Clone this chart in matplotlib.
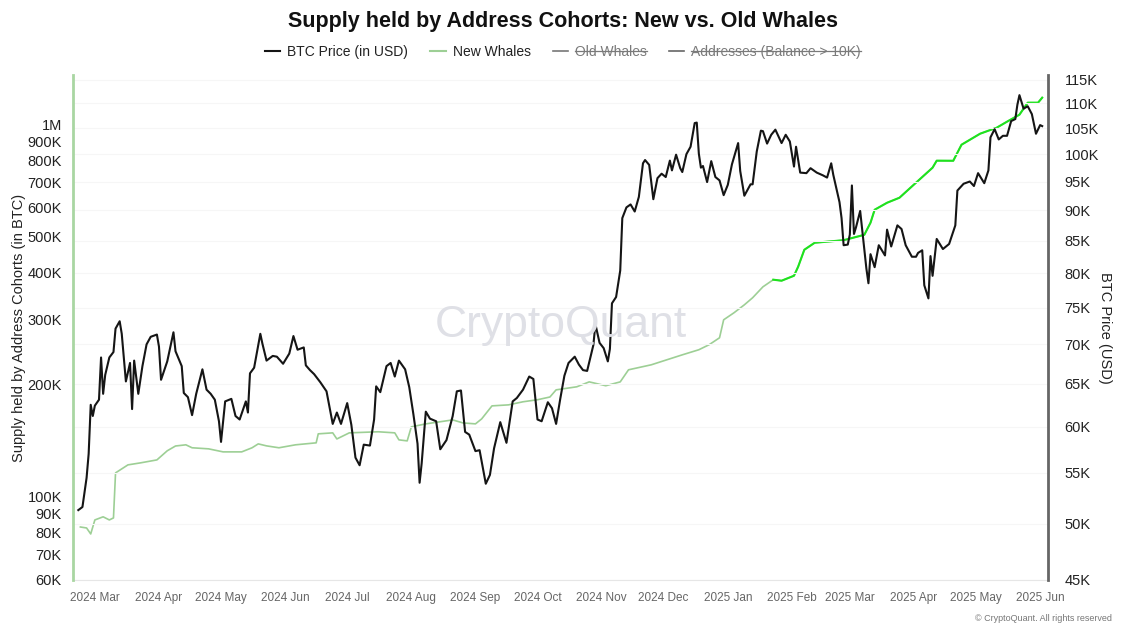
import numpy as np
import pandas as pd
import matplotlib
matplotlib.use("Agg")
import matplotlib.pyplot as plt
import matplotlib.dates as mdates
from matplotlib.lines import Line2D
from matplotlib.ticker import FixedLocator, NullLocator

plt.rcParams['font.family'] = ['Liberation Sans', 'DejaVu Sans']

# BTC price (USD)
price_dates = [
    "2024-02-22", "2024-02-24", "2024-02-26", "2024-02-27", "2024-02-28", "2024-02-29",
    "2024-03-01", "2024-03-03", "2024-03-04", "2024-03-05", "2024-03-06", "2024-03-08",
    "2024-03-10", "2024-03-11", "2024-03-13", "2024-03-14", "2024-03-16", "2024-03-18",
    "2024-03-19", "2024-03-20", "2024-03-22", "2024-03-24", "2024-03-26", "2024-03-28",
    "2024-03-31", "2024-04-01", "2024-04-02", "2024-04-05", "2024-04-08", "2024-04-09",
    "2024-04-12", "2024-04-13", "2024-04-15", "2024-04-17", "2024-04-19", "2024-04-22",
    "2024-04-24", "2024-04-26", "2024-04-28", "2024-04-30", "2024-05-01", "2024-05-03",
    "2024-05-06", "2024-05-08", "2024-05-10", "2024-05-13", "2024-05-14", "2024-05-15",
    "2024-05-17", "2024-05-20", "2024-05-21", "2024-05-23", "2024-05-26", "2024-05-28",
    "2024-05-31", "2024-06-03", "2024-06-05", "2024-06-07", "2024-06-10", "2024-06-11",
    "2024-06-13", "2024-06-15", "2024-06-18", "2024-06-21", "2024-06-24", "2024-06-26",
    "2024-06-28", "2024-07-01", "2024-07-03", "2024-07-05", "2024-07-07", "2024-07-09",
    "2024-07-12", "2024-07-14", "2024-07-15", "2024-07-17", "2024-07-20", "2024-07-22",
    "2024-07-24", "2024-07-26", "2024-07-29", "2024-07-31", "2024-08-02", "2024-08-04",
    "2024-08-05", "2024-08-06", "2024-08-08", "2024-08-10", "2024-08-13", "2024-08-15",
    "2024-08-18", "2024-08-21", "2024-08-23", "2024-08-25", "2024-08-27", "2024-08-29",
    "2024-09-01", "2024-09-03", "2024-09-06", "2024-09-08", "2024-09-10", "2024-09-13",
    "2024-09-16", "2024-09-19", "2024-09-21", "2024-09-24", "2024-09-27", "2024-09-29",
    "2024-10-01", "2024-10-03", "2024-10-06", "2024-10-08", "2024-10-10", "2024-10-12",
    "2024-10-14", "2024-10-16", "2024-10-19", "2024-10-21", "2024-10-23", "2024-10-25",
    "2024-10-28", "2024-10-29", "2024-10-31", "2024-11-02", "2024-11-04", "2024-11-05",
    "2024-11-06", "2024-11-08", "2024-11-10", "2024-11-11", "2024-11-13", "2024-11-15",
    "2024-11-17", "2024-11-19", "2024-11-21", "2024-11-22", "2024-11-24", "2024-11-26",
    "2024-11-28", "2024-11-30", "2024-12-02", "2024-12-04", "2024-12-05", "2024-12-07",
    "2024-12-09", "2024-12-10", "2024-12-12", "2024-12-14", "2024-12-16", "2024-12-17",
    "2024-12-18", "2024-12-19", "2024-12-20", "2024-12-22", "2024-12-24", "2024-12-26",
    "2024-12-28", "2024-12-30", "2025-01-01", "2025-01-03", "2025-01-06", "2025-01-07",
    "2025-01-09", "2025-01-12", "2025-01-13", "2025-01-15", "2025-01-17", "2025-01-18",
    "2025-01-20", "2025-01-22", "2025-01-24", "2025-01-27", "2025-01-29", "2025-01-31",
    "2025-02-02", "2025-02-03", "2025-02-05", "2025-02-08", "2025-02-10", "2025-02-13",
    "2025-02-16", "2025-02-18", "2025-02-20", "2025-02-21", "2025-02-24", "2025-02-25",
    "2025-02-26", "2025-02-28", "2025-03-01", "2025-03-02", "2025-03-03", "2025-03-04",
    "2025-03-06", "2025-03-07", "2025-03-09", "2025-03-10", "2025-03-11", "2025-03-13",
    "2025-03-15", "2025-03-18", "2025-03-19", "2025-03-21", "2025-03-24", "2025-03-26",
    "2025-03-28", "2025-03-31", "2025-04-02", "2025-04-03", "2025-04-05", "2025-04-06",
    "2025-04-08", "2025-04-09", "2025-04-10", "2025-04-12", "2025-04-15", "2025-04-18",
    "2025-04-21", "2025-04-22", "2025-04-25", "2025-04-28", "2025-04-30", "2025-05-02",
    "2025-05-05", "2025-05-07", "2025-05-08", "2025-05-10", "2025-05-12", "2025-05-14",
    "2025-05-16", "2025-05-18", "2025-05-20", "2025-05-21", "2025-05-22", "2025-05-24",
    "2025-05-26", "2025-05-28", "2025-05-30", "2025-06-01", "2025-06-02",
]
price_values = [
    51.3, 51.6, 54.5, 57.0, 62.5, 61.2,
    62.4, 63.1, 68.3, 63.8, 66.1, 68.3,
    69.0, 72.1, 73.1, 71.4, 65.3, 67.6,
    62.0, 67.9, 63.8, 67.2, 70.0, 71.0,
    71.3, 69.7, 65.5, 67.8, 71.6, 69.1,
    67.2, 63.9, 63.4, 61.3, 63.8, 66.8,
    64.3, 63.8, 63.1, 60.6, 58.3, 62.9,
    63.2, 61.2, 60.8, 62.9, 61.6, 66.3,
    67.0, 71.4, 70.1, 67.9, 68.5, 68.4,
    67.5, 68.8, 71.1, 69.3, 69.6, 67.3,
    66.7, 66.2, 65.2, 64.1, 60.3, 61.6,
    60.3, 62.7, 60.2, 56.6, 55.8, 58.0,
    57.9, 60.8, 64.7, 64.0, 67.2, 67.6,
    65.9, 67.9, 66.8, 64.6, 61.4, 58.1,
    54.0, 56.0, 61.7, 60.9, 60.6, 57.5,
    58.5, 61.2, 64.1, 64.2, 59.4, 59.1,
    57.3, 57.4, 53.9, 54.8, 57.6, 60.5,
    58.2, 62.9, 63.3, 64.3, 65.9, 65.6,
    60.8, 60.6, 62.8, 62.1, 60.3, 63.2,
    66.0, 67.6, 68.4, 67.4, 66.7, 66.6,
    69.9, 72.7, 70.2, 69.5, 67.8, 69.4,
    75.6, 76.5, 80.4, 88.7, 90.5, 91.0,
    89.8, 92.3, 98.3, 98.9, 98.0, 91.9,
    95.6, 96.4, 95.8, 98.8, 97.0, 99.9,
    97.4, 96.7, 100.0, 101.4, 106.0, 106.1,
    100.1, 97.5, 97.8, 94.9, 98.7, 95.8,
    95.2, 92.6, 94.4, 98.1, 102.1, 96.9,
    92.5, 94.5, 94.5, 100.5, 104.5, 104.4,
    102.0, 103.7, 104.7, 102.1, 103.7, 102.4,
    97.7, 101.4, 96.6, 96.5, 97.4, 96.6,
    96.1, 95.7, 98.3, 96.2, 91.4, 88.7,
    84.3, 84.4, 86.0, 94.3, 86.1, 87.2,
    89.9, 86.7, 80.7, 78.5, 82.9, 80.9,
    84.3, 82.7, 86.8, 84.1, 87.5, 86.9,
    84.3, 82.5, 82.5, 83.1, 83.5, 78.2,
    76.3, 82.6, 79.6, 85.3, 83.7, 84.5,
    87.5, 93.4, 94.6, 95.0, 94.2, 96.5,
    94.7, 97.0, 103.2, 104.8, 102.8, 103.5,
    103.5, 106.4, 106.8, 109.7, 111.7, 108.9,
    109.4, 107.8, 103.9, 105.6, 105.4,
]

# New Whales supply (BTC)
whale_dates = [
    "2024-02-23", "2024-02-26", "2024-02-28", "2024-03-01", "2024-03-05", "2024-03-08",
    "2024-03-10", "2024-03-11", "2024-03-17", "2024-03-23", "2024-03-31", "2024-04-05",
    "2024-04-09", "2024-04-14", "2024-04-17", "2024-04-25", "2024-05-02", "2024-05-11",
    "2024-05-16", "2024-05-19", "2024-05-23", "2024-05-29", "2024-06-06", "2024-06-16",
    "2024-06-17", "2024-06-24", "2024-06-26", "2024-07-02", "2024-07-16", "2024-07-24",
    "2024-07-26", "2024-07-30", "2024-08-01", "2024-08-08", "2024-08-21", "2024-08-26",
    "2024-09-01", "2024-09-04", "2024-09-09", "2024-09-17", "2024-09-24", "2024-10-01",
    "2024-10-07", "2024-10-10", "2024-10-20", "2024-10-26", "2024-11-03", "2024-11-10",
    "2024-11-14", "2024-11-25", "2024-12-10", "2024-12-18", "2024-12-23", "2024-12-28",
    "2024-12-30", "2025-01-04", "2025-01-09", "2025-01-13", "2025-01-18", "2025-01-23",
    "2025-01-27", "2025-02-02", "2025-02-04", "2025-02-07", "2025-02-12", "2025-02-26",
    "2025-03-08", "2025-03-11", "2025-03-13", "2025-03-19", "2025-03-25", "2025-04-02",
    "2025-04-10", "2025-04-12", "2025-04-20", "2025-04-24", "2025-05-03", "2025-05-11",
    "2025-05-16", "2025-05-22", "2025-05-26", "2025-05-31", "2025-06-02",
]
whale_values = [
    83.0, 82.5, 79.5, 86.7, 88.4, 86.7,
    87.8, 116.0, 121.9, 123.4, 125.7, 133.0,
    137.0, 138.0, 135.5, 134.6, 132.1, 132.1,
    135.5, 138.8, 137.1, 135.5, 138.0, 139.7,
    147.7, 148.6, 143.1, 148.6, 149.6, 148.6,
    142.3, 141.4, 154.2, 157.1, 161.0, 158.0,
    157.1, 162.0, 175.6, 176.7, 180.1, 182.4,
    185.5, 193.9, 197.6, 203.7, 198.9, 203.7,
    219.5, 226.4, 240.8, 248.5, 256.4, 267.6,
    299.1, 312.4, 328.1, 342.8, 366.8, 383.3,
    380.9, 392.8, 415.2, 461.3, 481.7, 489.4,
    506.0, 545.3, 590.9, 617.0, 636.5, 698.6,
    766.5, 800.4, 800.0, 883.6, 945.9, 981.6,
    1019.0, 1064.0, 1146.0, 1146.0, 1182.0,
]
highlight_from = "2025-01-23"

left_ticks = [60e3, 70e3, 80e3, 90e3, 100e3, 200e3, 300e3, 400e3, 500e3,
              600e3, 700e3, 800e3, 900e3, 1e6]
left_labels = ["60K", "70K", "80K", "90K", "100K", "200K", "300K", "400K", "500K",
               "600K", "700K", "800K", "900K", "1M"]
right_ticks = [45e3 + 5e3 * i for i in range(15)]
right_labels = ["%dK" % (t / 1000) for t in right_ticks]

pdates = pd.to_datetime(price_dates)
prices = np.array(price_values) * 1000
wdates = pd.to_datetime(whale_dates)
whales = np.array(whale_values) * 1000

fig = plt.figure(figsize=(11.26, 6.34), dpi=100)
ax = fig.add_axes([0.0648, 0.0852, 0.8659, 0.7965])
ax2 = ax.twinx()

# watermark
fig.text(0.498, 0.487, "CryptoQuant", fontsize=32, color="#dfe0e6",
         ha="center", va="center", zorder=0)

mask = wdates >= pd.Timestamp(highlight_from)
ax.plot(wdates, whales, color="#9dcf95", lw=1.2, zorder=3)
ax.plot(wdates[mask], whales[mask], color="#1ee21e", lw=1.5, zorder=4)
ax2.plot(pdates, prices, color="#151515", lw=1.5, zorder=5)

ax.set_yscale("log")
ax.set_ylim(59.8e3, 1.36e6)
ax.yaxis.set_major_locator(FixedLocator(left_ticks))
ax.yaxis.set_minor_locator(NullLocator())
ax.set_yticklabels(left_labels)
ax2.set_yscale("log")
ax2.set_ylim(45e3, 116e3)
ax2.yaxis.set_major_locator(FixedLocator(right_ticks))
ax2.yaxis.set_minor_locator(NullLocator())
ax2.set_yticklabels(right_labels)

ax.set_xlim(pd.Timestamp("2024-02-19 10:00"), pd.Timestamp("2025-06-04 19:00"))
ax.xaxis.set_major_locator(mdates.MonthLocator())
ax.xaxis.set_major_formatter(mdates.DateFormatter("%Y %b"))

ax.tick_params(axis="y", length=0, pad=8, labelsize=10.5, labelcolor="#222")
ax2.tick_params(axis="y", length=0, pad=12, labelsize=10.5, labelcolor="#222")
ax.tick_params(axis="x", length=0, pad=9, labelsize=8.5, labelcolor="#666")
ax2.tick_params(axis="x", length=0)

# very faint horizontal grid on the price ticks
ax2.grid(True, axis="y", color="#f6f6f6", lw=0.8)
ax2.set_axisbelow(True)

for a in (ax, ax2):
    a.spines["top"].set_visible(False)
    a.patch.set_alpha(0)
# both side spines on the top axes so the grid doesn't cut across them
ax.spines["left"].set_visible(False)
ax.spines["right"].set_visible(False)
ax2.spines["left"].set_color("#a9d6a2")
ax2.spines["left"].set_linewidth(2)
ax2.spines["right"].set_color("#666666")
ax2.spines["right"].set_linewidth(2)
ax.spines["bottom"].set_color("#e6e6e6")
ax2.spines["bottom"].set_visible(False)

ax.set_ylabel("Supply held by Address Cohorts (in BTC)", fontsize=10.5, color="#222", labelpad=1)
ax2.set_ylabel("BTC Price (USD)", fontsize=10.5, color="#222", rotation=270, labelpad=9)

fig.text(0.5, 0.966, "Supply held by Address Cohorts: New vs. Old Whales",
         ha="center", va="center", fontsize=15.5, fontweight="bold", color="#111")

handles = [Line2D([], [], color="#151515", lw=1.5),
           Line2D([], [], color="#9dcf95", lw=1.5),
           Line2D([], [], color="#777777", lw=1.2),
           Line2D([], [], color="#666666", lw=1.2)]
labels = ["BTC Price (in USD)", "New Whales", "Old Whales", "Addresses (Balance > 10K)"]
leg = fig.legend(handles, labels, loc="center", bbox_to_anchor=(0.5, 0.918), ncol=4,
                 frameon=False, fontsize=10, handlelength=1.1, handletextpad=0.5,
                 columnspacing=1.6)
texts = leg.get_texts()
texts[0].set_color("#222")
texts[1].set_color("#222")
texts[2].set_color("#7a7a7a")
texts[3].set_color("#7a7a7a")

fig.text(0.988, 0.025, "© CryptoQuant. All rights reserved", ha="right", va="center",
         fontsize=6.5, color="#777")

# strike through the hidden series in the legend
fig.canvas.draw()
renderer = fig.canvas.get_renderer()
W, H = fig.bbox.width, fig.bbox.height
for t in texts[2:]:
    bb = t.get_window_extent(renderer)
    ym = (bb.y0 + bb.y1) / 2 + 1
    fig.add_artist(Line2D([bb.x0 / W, bb.x1 / W], [ym / H, ym / H],
                          transform=fig.transFigure, color="#7a7a7a", lw=0.9))

fig.savefig("out.png", dpi=100)
